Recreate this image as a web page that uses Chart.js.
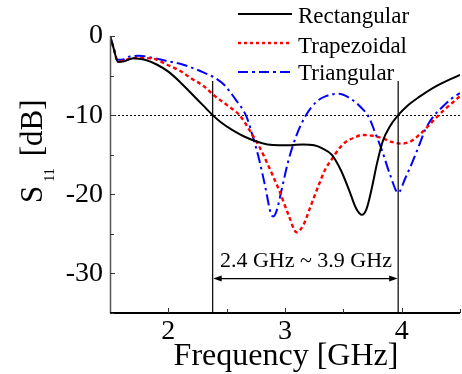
<!DOCTYPE html>
<html>
<head>
<meta charset="utf-8">
<script src="https://cdn.jsdelivr.net/npm/chart.js@4/dist/chart.umd.min.js"></script>
<style>
  html, body { margin: 0; padding: 0; background: #fff; }
  #wrap { width: 462px; height: 374px; position: relative; }
</style>
</head>
<body>
<div id="wrap"><canvas id="c" width="462" height="374"></canvas></div>
<script>
// Return loss of the three patch shapes (frequency in GHz, S11 in dB)
const rectFreq = [1.50, 1.53, 1.57, 1.62, 1.70, 1.80, 1.90, 2.00, 2.10, 2.20, 2.30, 2.38, 2.45, 2.55, 2.65, 2.75, 2.85, 2.95, 3.05, 3.15, 3.25, 3.32, 3.40, 3.48, 3.55, 3.61, 3.66, 3.70, 3.74, 3.79, 3.84, 3.90, 3.97, 4.05, 4.15, 4.30, 4.50];
const rectS11  = [0.0, -1.5, -3.3, -3.2, -2.8, -3.0, -3.6, -4.5, -5.8, -7.3, -8.8, -10.0, -10.9, -11.9, -12.7, -13.3, -13.7, -13.8, -13.8, -13.7, -13.8, -14.2, -15.0, -17.0, -19.5, -21.8, -22.6, -21.8, -19.5, -16.0, -13.2, -11.4, -10.0, -8.8, -7.7, -6.3, -4.9];

const trapFreq = [1.50, 1.53, 1.57, 1.62, 1.70, 1.80, 1.88, 2.00, 2.10, 2.20, 2.30, 2.40, 2.50, 2.61, 2.70, 2.78, 2.87, 2.95, 3.03, 3.10, 3.16, 3.22, 3.29, 3.35, 3.40, 3.46, 3.52, 3.60, 3.66, 3.75, 3.83, 3.92, 4.00, 4.08, 4.15, 4.22, 4.29, 4.36, 4.43, 4.50];
const trapS11  = [0.0, -1.5, -3.2, -3.1, -2.8, -2.8, -2.9, -3.7, -4.4, -5.4, -6.3, -7.6, -8.7, -10.0, -12.0, -14.0, -16.8, -19.5, -22.6, -24.8, -23.8, -21.5, -18.8, -16.7, -15.6, -14.3, -13.4, -12.8, -12.5, -12.6, -12.9, -13.4, -13.6, -13.3, -12.5, -11.5, -10.4, -9.4, -8.5, -7.6];

const triFreq = [1.50, 1.53, 1.56, 1.60, 1.67, 1.75, 1.88, 2.00, 2.10, 2.20, 2.30, 2.40, 2.48, 2.58, 2.67, 2.73, 2.78, 2.83, 2.88, 2.90, 2.93, 2.97, 3.03, 3.10, 3.18, 3.27, 3.35, 3.46, 3.57, 3.65, 3.72, 3.78, 3.83, 3.90, 3.97, 4.03, 4.09, 4.15, 4.20, 4.27, 4.34, 4.42, 4.50];
const triS11  = [0.0, -1.4, -3.0, -3.0, -2.6, -2.5, -2.8, -3.2, -3.5, -4.0, -4.6, -5.3, -6.2, -8.1, -10.2, -13.0, -15.7, -19.0, -22.5, -22.8, -22.0, -19.5, -15.7, -12.5, -10.0, -8.3, -7.6, -7.3, -8.0, -9.0, -10.3, -12.5, -14.4, -17.5, -19.8, -18.0, -16.0, -13.8, -11.9, -10.2, -9.1, -8.0, -7.2];

const seriesNames = ['Rectangular', 'Trapezoidal', 'Triangular'];

// Axis ranges and labelled ticks
const xTickLabels = [2, 3, 4];
const yTickLabels = [0, -10, -20, -30];

// -10 dB reference and the bandwidth markers
const refLevel = -10;
const bandEdges = [2.38, 3.97];
const bandTop = -5.7;
const arrowLevel = -30.65;
const bandText = '2.4 GHz ~ 3.9 GHz';

const SERIF = '"Liberation Serif", "Times New Roman", serif';

function pts(xs, ys) { return xs.map((x, i) => ({ x: x, y: ys[i] })); }

const styles = [
  { color: '#000000', width: 2.0, dash: [], legendDash: [] },
  { color: '#ff0000', width: 2.4, dash: [4, 3], legendDash: [3, 3] },
  { color: '#0000ff', width: 2.0, dash: [11, 4, 2.5, 4], legendDash: [10, 4, 3, 4] }
];

const overlay = {
  id: 'overlay',
  beforeDatasetsDraw(chart) {
    const ctx = chart.ctx, ys = chart.scales.y, a = chart.chartArea;
    ctx.save();
    // dotted -10 dB line
    ctx.strokeStyle = '#000';
    ctx.lineWidth = 1;
    ctx.setLineDash([2, 2]);
    const yr = Math.round(ys.getPixelForValue(refLevel)) + 0.5;
    ctx.beginPath(); ctx.moveTo(a.left, yr); ctx.lineTo(a.right, yr); ctx.stroke();
    ctx.restore();
  },
  afterDraw(chart) {
    const ctx = chart.ctx, xs = chart.scales.x, ys = chart.scales.y, a = chart.chartArea;
    ctx.save();
    ctx.setLineDash([]);

    // band edge markers
    ctx.strokeStyle = '#000';
    ctx.lineWidth = 1.2;
    bandEdges.forEach(f => {
      const px = xs.getPixelForValue(f);
      ctx.beginPath();
      ctx.moveTo(px, ys.getPixelForValue(bandTop));
      ctx.lineTo(px, a.bottom);
      ctx.stroke();
    });

    // double-headed arrow between the markers
    const x0 = xs.getPixelForValue(bandEdges[0]), x1 = xs.getPixelForValue(bandEdges[1]);
    const ya = ys.getPixelForValue(arrowLevel);
    ctx.lineWidth = 1.2;
    ctx.beginPath(); ctx.moveTo(x0 + 6, ya); ctx.lineTo(x1 - 6, ya); ctx.stroke();
    ctx.fillStyle = '#000';
    ctx.beginPath(); ctx.moveTo(x0 + 0.5, ya); ctx.lineTo(x0 + 9, ya - 3); ctx.lineTo(x0 + 9, ya + 3); ctx.closePath(); ctx.fill();
    ctx.beginPath(); ctx.moveTo(x1 - 0.5, ya); ctx.lineTo(x1 - 9, ya - 3); ctx.lineTo(x1 - 9, ya + 3); ctx.closePath(); ctx.fill();

    ctx.font = '22px ' + SERIF;
    ctx.textAlign = 'center';
    ctx.textBaseline = 'alphabetic';
    ctx.fillText(bandText, (x0 + x1) / 2 + 0.5, ya - 12);

    // axis lines
    ctx.strokeStyle = '#555';
    ctx.lineWidth = 1.5;
    ctx.beginPath(); ctx.moveTo(a.left + 0.5, a.top); ctx.lineTo(a.left + 0.5, a.bottom); ctx.stroke();
    ctx.strokeStyle = '#000';
    ctx.lineWidth = 2;
    ctx.beginPath(); ctx.moveTo(a.left, a.bottom); ctx.lineTo(a.right, a.bottom); ctx.stroke();

    // inward tick marks
    ctx.lineWidth = 1;
    ctx.strokeStyle = '#333';
    for (let v = 0; v >= -35; v -= 5) {
      const py = Math.round(ys.getPixelForValue(v)) + 0.5;
      const len = (v % 10 === 0) ? 5 : 4;
      ctx.beginPath(); ctx.moveTo(a.left, py); ctx.lineTo(a.left + len, py); ctx.stroke();
    }
    for (let f = 2.0; f <= 4.5; f += 0.5) {
      const px = Math.round(xs.getPixelForValue(f)) + 0.5;
      const len = Number.isInteger(f) ? 5 : 4;
      ctx.beginPath(); ctx.moveTo(px, a.bottom); ctx.lineTo(px, a.bottom - len); ctx.stroke();
    }

    // axis titles
    ctx.fillStyle = '#000';
    ctx.font = '32px ' + SERIF;
    ctx.textAlign = 'center';
    ctx.fillText('Frequency [GHz]', 286, 365);

    ctx.save();
    ctx.translate(42, 203);
    ctx.rotate(-Math.PI / 2);
    ctx.textAlign = 'left';
    ctx.font = '31px ' + SERIF;
    ctx.fillText('S', 0, 0);
    const sw = ctx.measureText('S').width;
    ctx.font = '14px ' + SERIF;
    ctx.fillText('11', sw + 4, 12);
    const subw = ctx.measureText('11').width;
    ctx.font = '31px ' + SERIF;
    ctx.fillText('[dB]', sw + 4 + subw + 12, 0);
    ctx.restore();

    // legend
    const lx0 = 238, lx1 = 292, tx = 298;
    const rowsLine = [14, 43, 72], rowsText = [23, 53, 80];
    ctx.font = '23px ' + SERIF;
    ctx.textAlign = 'left';
    chart.data.datasets.forEach((ds, i) => {
      const st = styles[i];
      ctx.strokeStyle = st.color;
      ctx.lineWidth = st.width;
      ctx.setLineDash(st.legendDash);
      ctx.beginPath(); ctx.moveTo(lx0, rowsLine[i]); ctx.lineTo(lx1, rowsLine[i]); ctx.stroke();
      ctx.setLineDash([]);
      ctx.fillStyle = '#000';
      ctx.fillText(ds.label, tx, rowsText[i]);
    });
    ctx.restore();
  }
};

const datasets = [pts(rectFreq, rectS11), pts(trapFreq, trapS11), pts(triFreq, triS11)].map((d, i) => ({
  label: seriesNames[i],
  data: d,
  borderColor: styles[i].color,
  borderWidth: styles[i].width,
  borderDash: styles[i].dash,
  pointRadius: 0,
  fill: false,
  cubicInterpolationMode: 'monotone'
}));

new Chart(document.getElementById('c'), {
  type: 'line',
  data: { datasets: datasets },
  plugins: [overlay],
  options: {
    responsive: false,
    animation: false,
    devicePixelRatio: 1,
    layout: { padding: { left: 0, right: 0, top: 36, bottom: 0 } },
    plugins: { legend: { display: false }, tooltip: { enabled: false } },
    scales: {
      x: {
        type: 'linear', min: 1.5, max: 4.5,
        grid: { display: false, drawTicks: false },
        border: { display: false },
        ticks: {
          stepSize: 0.5, autoSkip: false, maxRotation: 0, padding: 2, color: '#000',
          font: { family: SERIF, size: 28 },
          callback: v => xTickLabels.includes(v) ? String(v) : ''
        },
        afterFit: s => { s.height = 61; }
      },
      y: {
        type: 'linear', min: -35, max: 0,
        grid: { display: false, drawTicks: false },
        border: { display: false },
        ticks: {
          stepSize: 5, autoSkip: false, padding: 7, color: '#000',
          font: { family: SERIF, size: 28 },
          callback: v => yTickLabels.includes(v) ? String(v) : ''
        },
        afterFit: s => { s.width = 110; }
      }
    }
  }
});
</script>
</body>
</html>
